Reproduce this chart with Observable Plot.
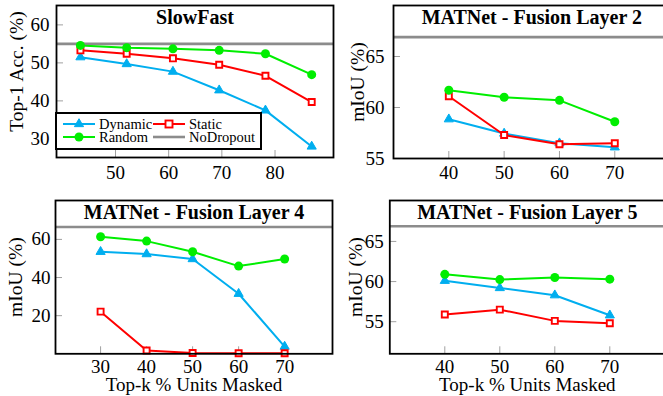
<!DOCTYPE html>
<html>
<head>
<meta charset="utf-8">
<script src="https://cdn.jsdelivr.net/npm/d3@7"></script>
<script src="https://cdn.jsdelivr.net/npm/@observablehq/plot@0.6"></script>
<style>
  body { margin: 0; background: white; }
  #wrap { position: relative; width: 663px; height: 396px; overflow: hidden; background: white; font-family: "Liberation Serif", serif; }
  .legend { position: absolute; box-sizing: border-box; background: white; border: 2px solid black; }
  .legend .item { position: absolute; display: flex; align-items: center; font-size: 14.5px; line-height: 12px; height: 12px; }
  .legend svg { display: block; margin-right: 4px; }
</style>
</head>
<body>
<div id="wrap"></div>
<script>
// ---------- data ----------
const seriesNames = ["Dynamic", "Static", "Random", "NoDropout"];

// SlowFast
const sfX = [43.4, 52.1, 60.8, 69.5, 78.2, 86.9];
const sfDynamic = [51.5, 49.7, 47.7, 42.8, 37.5, 28.0];
const sfStatic = [53.3, 52.4, 51.2, 49.5, 46.6, 39.7];
const sfRandom = [54.6, 54.0, 53.7, 53.3, 52.4, 46.9];
const sfNoDropout = 55;
const sfXTicks = [50, 60, 70, 80];
const sfYTicks = [30, 40, 50, 60];

// MATNet - Fusion Layer 2
const l2X = [40, 50, 60, 70];
const l2Dynamic = [58.85, 57.45, 56.5, 56.1];
const l2Static = [61.1, 57.3, 56.4, 56.5];
const l2Random = [61.7, 61.0, 60.7, 58.6];
const l2NoDropout = 66.9;
const l2XTicks = [40, 50, 60, 70];
const l2YTicks = [55, 60, 65];

// MATNet - Fusion Layer 4
const l4X = [30, 40, 50, 60, 70];
const l4Dynamic = [53.5, 52.3, 49.7, 31.5, 3.8];
const l4Static = [22.1, 1.7, 0.4, 0.3, 0.3];
const l4Random = [61.4, 59.1, 53.5, 46.0, 49.7];
const l4NoDropout = 66.5;
const l4XTicks = [30, 40, 50, 60, 70];
const l4YTicks = [20, 40, 60];

// MATNet - Fusion Layer 5
const l5X = [40, 50, 60, 70];
const l5Dynamic = [60.1, 59.2, 58.3, 55.8];
const l5Static = [55.9, 56.5, 55.1, 54.8];
const l5Random = [60.9, 60.25, 60.5, 60.3];
const l5NoDropout = 66.9;
const l5XTicks = [40, 50, 60, 70];
const l5YTicks = [55, 60, 65];

// ---------- style ----------
const CYAN = "#00AEEF", RED = "#FF0000", GREEN = "#00EE00", GRAY = "#8c8c8c", TICK = "#a0a0a0";
const FONT = "Liberation Serif, serif";

function panel(cfg) {
  const {xs, dyn, sta, rnd, noDrop, xDomain, yDomain, xTicks, yTicks, title, yLabel, xLabel, box} = cfg;
  const plotW = box.width - box.ml - box.mr;
  const plotH = box.height - box.mt - box.mb;
  const rows = (vals) => xs.map((x, i) => ({x, y: vals[i]}));
  const marks = [
    Plot.tickX(xTicks, {x: d => d, stroke: TICK, strokeWidth: 1, insetTop: plotH - 7}),
    Plot.tickY(yTicks, {y: d => d, stroke: TICK, strokeWidth: 1, insetRight: plotW - 7}),
    Plot.ruleY([noDrop], {stroke: GRAY, strokeWidth: 2.6}),
    Plot.axisX(xTicks, {tickSize: 0, tickPadding: box.xpad, fontSize: 19, label: null}),
    Plot.axisY(yTicks, {tickSize: 0, tickPadding: box.ypad, fontSize: 19, label: null}),
    Plot.line(rows(dyn), {x: "x", y: "y", stroke: CYAN, strokeWidth: 2}),
    Plot.dot(rows(dyn), {x: "x", y: "y", symbol: "triangle", fill: CYAN, stroke: CYAN, strokeWidth: 1, r: 3.4}),
    Plot.line(rows(sta), {x: "x", y: "y", stroke: RED, strokeWidth: 2}),
    Plot.dot(rows(sta), {x: "x", y: "y", symbol: "square", fill: "white", stroke: RED, strokeWidth: 1.9, r: 3.4}),
    Plot.line(rows(rnd), {x: "x", y: "y", stroke: GREEN, strokeWidth: 2}),
    Plot.dot(rows(rnd), {x: "x", y: "y", symbol: "circle", fill: GREEN, r: 4.5}),
    Plot.frame({stroke: "black", strokeWidth: 1.8}),
    Plot.text([title], {text: d => d, frameAnchor: "top", textAnchor: "middle", lineAnchor: "middle", dy: 12, fontSize: 20, fontWeight: "bold", fill: "black"}),
    Plot.text([yLabel], {text: d => d, frameAnchor: "left", textAnchor: "middle", lineAnchor: "middle", rotate: -90, dx: box.ylx, dy: box.yly || 0, fontSize: 19.5, fill: "black"})
  ];
  if (xLabel) {
    marks.push(Plot.text([xLabel], {text: d => d, frameAnchor: "bottom", textAnchor: "middle", lineAnchor: "middle", dy: 31.5, fontSize: 19, fill: "black"}));
  }
  const svg = Plot.plot({
    width: box.width, height: box.height,
    marginLeft: box.ml, marginRight: box.mr, marginTop: box.mt, marginBottom: box.mb,
    style: {fontFamily: FONT, fontSize: "19px", color: "black", background: "transparent", overflow: "visible"},
    x: {domain: xDomain},
    y: {domain: yDomain},
    marks
  });
  svg.style.position = "absolute";
  svg.style.left = box.left + "px";
  svg.style.top = box.top + "px";
  svg.style.maxWidth = "none";
  return svg;
}

const wrap = document.getElementById("wrap");

wrap.appendChild(panel({
  xs: sfX, dyn: sfDynamic, sta: sfStatic, rnd: sfRandom, noDrop: sfNoDropout,
  xDomain: [38.9, 91.0], yDomain: [25.1, 65.1], xTicks: sfXTicks, yTicks: sfYTicks,
  title: "SlowFast", yLabel: "Top-1 Acc. (%)",
  box: {left: 0, top: 0, width: 335, height: 195, ml: 56, mr: 2, mt: 5, mb: 38, xpad: 8, ypad: 7, ylx: -40, yly: -10}
}));

wrap.appendChild(panel({
  xs: l2X, dyn: l2Dynamic, sta: l2Static, rnd: l2Random, noDrop: l2NoDropout,
  xDomain: [30, 80], yDomain: [55, 70], xTicks: l2XTicks, yTicks: l2YTicks,
  title: "MATNet - Fusion Layer 2", yLabel: "mIoU (%)",
  box: {left: 335, top: 0, width: 340, height: 195, ml: 58, mr: 5.4, mt: 5, mb: 37, xpad: 6.5, ypad: 9, ylx: -36}
}));

wrap.appendChild(panel({
  xs: l4X, dyn: l4Dynamic, sta: l4Static, rnd: l4Random, noDrop: l4NoDropout,
  xDomain: [20.2, 80.4], yDomain: [0, 80.4], xTicks: l4XTicks, yTicks: l4YTicks,
  title: "MATNet - Fusion Layer 4", yLabel: "mIoU (%)", xLabel: "Top-k % Units Masked",
  box: {left: 0, top: 195, width: 335, height: 201, ml: 55, mr: 3, mt: 5, mb: 42.7, xpad: 5.5, ypad: 5, ylx: -40}
}));

wrap.appendChild(panel({
  xs: l5X, dyn: l5Dynamic, sta: l5Static, rnd: l5Random, noDrop: l5NoDropout,
  xDomain: [30, 80], yDomain: [51, 70.1], xTicks: l5XTicks, yTicks: l5YTicks,
  title: "MATNet - Fusion Layer 5", yLabel: "mIoU (%)", xLabel: "Top-k % Units Masked",
  box: {left: 335, top: 195, width: 340, height: 201, ml: 54.3, mr: 10.7, mt: 5, mb: 42.7, xpad: 6, ypad: 6, ylx: -34}
}));

// ---------- legend (SlowFast panel) ----------
const legendItems = [
  {name: seriesNames[0], color: CYAN, symbol: "triangle", col: 0, row: 0},
  {name: seriesNames[1], color: RED, symbol: "square", col: 1, row: 0},
  {name: seriesNames[2], color: GREEN, symbol: "circle", col: 0, row: 1},
  {name: seriesNames[3], color: GRAY, symbol: null, col: 1, row: 1}
];
const legend = document.createElement("div");
legend.className = "legend";
Object.assign(legend.style, {left: "55px", top: "112px", width: "207px", height: "37.5px"});
legendItems.forEach(it => {
  const d = document.createElement("div");
  d.className = "item";
  d.style.left = (it.col === 0 ? 6 : 96) + "px";
  d.style.top = (it.row === 0 ? 4 : 17.3) + "px";
  let sym = "";
  if (it.symbol === "triangle") sym = `<path d="${d3.symbol(d3.symbolTriangle, Math.PI * 3.4 * 3.4)()}" transform="translate(16,6)" fill="${it.color}" stroke="${it.color}"/>`;
  if (it.symbol === "square") sym = `<rect x="12.5" y="2.5" width="7" height="7" fill="white" stroke="${it.color}" stroke-width="1.9"/>`;
  if (it.symbol === "circle") sym = `<circle cx="16" cy="6" r="4.5" fill="${it.color}"/>`;
  const sw = it.symbol ? 2 : 2.6;
  d.innerHTML = `<svg width="32" height="12" style="overflow:visible"><line x1="0" x2="32" y1="6" y2="6" stroke="${it.color}" stroke-width="${sw}"/>${sym}</svg><span>${it.name}</span>`;
  legend.appendChild(d);
});
wrap.appendChild(legend);
</script>
</body>
</html>
